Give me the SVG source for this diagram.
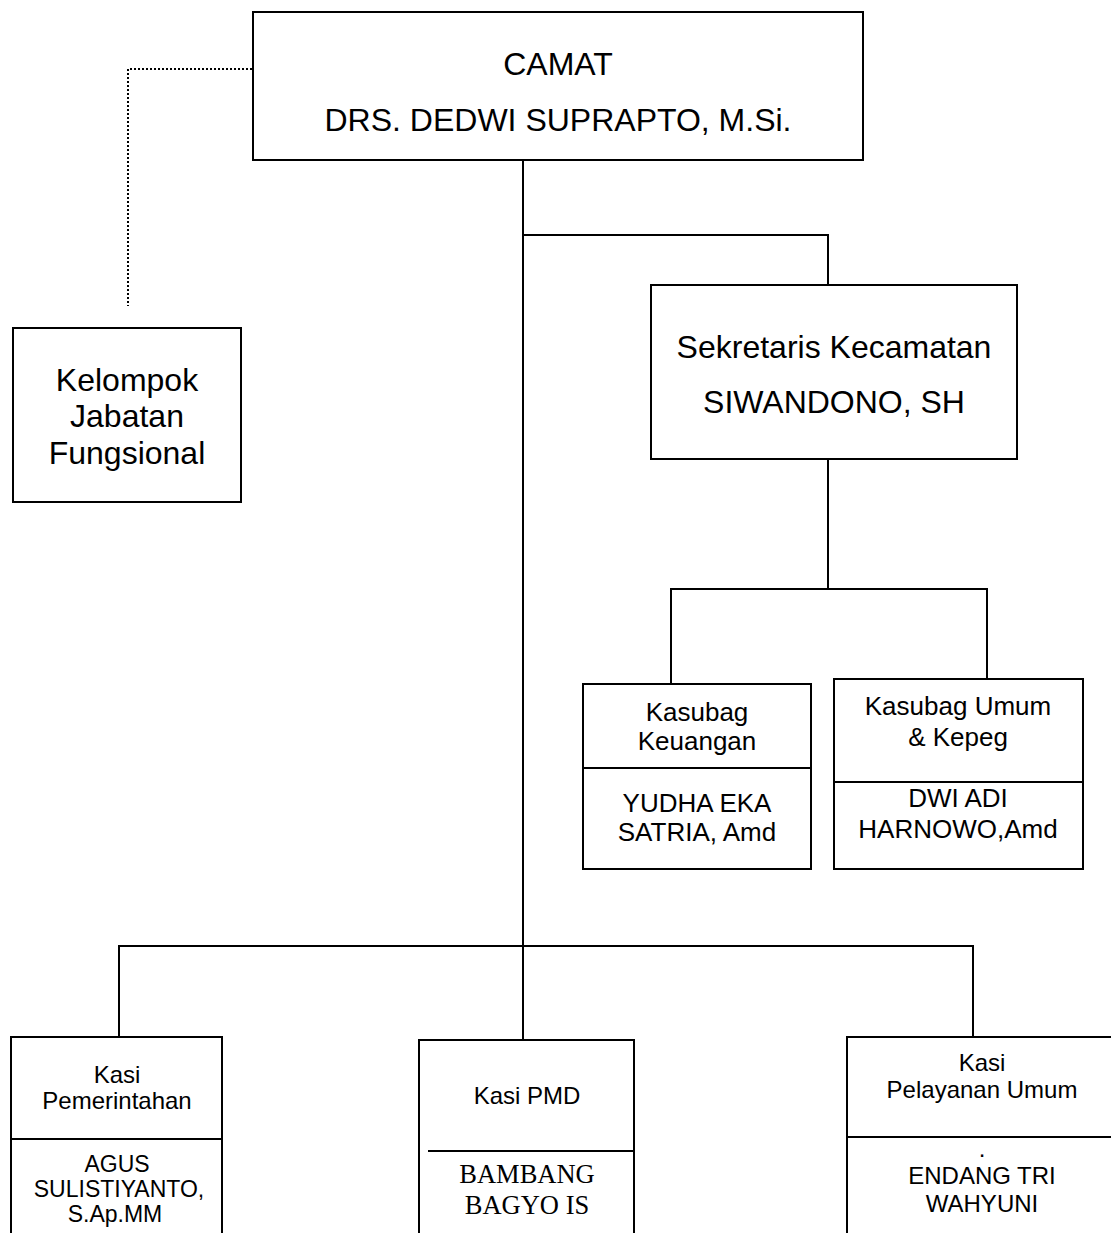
<svg xmlns="http://www.w3.org/2000/svg" width="1111" height="1233" viewBox="0 0 1111 1233">
<style>
.box{fill:#fff;stroke:#000;stroke-width:2}
.ln{fill:none;stroke:#000;stroke-width:2}
.dot{fill:none;stroke:#000;stroke-width:2;stroke-dasharray:2 2}
text{font-family:"Liberation Sans",Arial,sans-serif;fill:#000;text-anchor:middle}
.t32{font-size:32px}
.t26{font-size:26px}
.t22{font-size:24px}
.t23{font-size:23px}
.ser{font-family:"Liberation Serif","Times New Roman",serif;font-size:26.5px}
</style>
<rect width="1111" height="1233" fill="#fff"/>
<g id="connectors">
<polyline class="dot" points="252,69 128,69 128,306"/>
<line class="ln" x1="523" y1="160" x2="523" y2="1040"/>
<polyline class="ln" points="523,235 828,235 828,285"/>
<line class="ln" x1="828" y1="459" x2="828" y2="589"/>
<polyline class="ln" points="671,684 671,589 987,589 987,679"/>
<polyline class="ln" points="119,1037 119,946 973,946 973,1037"/>
</g>
<g id="camat">
<rect class="box" x="253" y="12" width="610" height="148"/>
<text class="t32" x="558" y="75">CAMAT</text>
<text class="t32" x="558" y="131">DRS. DEDWI SUPRAPTO, M.Si.</text>
</g>
<g id="kelompok">
<rect class="box" x="13" y="328" width="228" height="174"/>
<text class="t32" x="127" y="391">Kelompok</text>
<text class="t32" x="127" y="427">Jabatan</text>
<text class="t32" x="127" y="464">Fungsional</text>
</g>
<g id="sekretaris">
<rect class="box" x="651" y="285" width="366" height="174"/>
<text class="t32" x="834" y="358">Sekretaris Kecamatan</text>
<text class="t32" x="834" y="413">SIWANDONO, SH</text>
</g>
<g id="kasubag-keuangan">
<rect class="box" x="583" y="684" width="228" height="185"/>
<line class="ln" x1="583" y1="768" x2="811" y2="768"/>
<text class="t26" x="697" y="721">Kasubag</text>
<text class="t26" x="697" y="750">Keuangan</text>
<text class="t26" x="697" y="812">YUDHA EKA</text>
<text class="t26" x="697" y="841">SATRIA, Amd</text>
</g>
<g id="kasubag-umum">
<rect class="box" x="834" y="679" width="249" height="190"/>
<line class="ln" x1="834" y1="782" x2="1083" y2="782"/>
<text class="t26" x="958" y="715">Kasubag Umum</text>
<text class="t26" x="958" y="746">&amp; Kepeg</text>
<text class="t26" x="958" y="807">DWI ADI</text>
<text class="t26" x="958" y="838">HARNOWO,Amd</text>
</g>
<g id="kasi-pemerintahan">
<rect class="box" x="11" y="1037" width="211" height="210"/>
<line class="ln" x1="11" y1="1139" x2="222" y2="1139"/>
<text class="t22" x="117" y="1083">Kasi</text>
<text class="t22" x="117" y="1109">Pemerintahan</text>
<text class="t23" x="117" y="1172">AGUS</text>
<text class="t23" x="119" y="1197">SULISTIYANTO,</text>
<text class="t23" x="115" y="1222">S.Ap.MM</text>
</g>
<g id="kasi-pmd">
<rect class="box" x="419" y="1040" width="215" height="210"/>
<line class="ln" x1="428" y1="1151" x2="634" y2="1151"/>
<text class="t22" x="527" y="1104">Kasi PMD</text>
<text class="ser" x="527" y="1183">BAMBANG</text>
<text class="ser" x="527" y="1214">BAGYO IS</text>
</g>
<g id="kasi-pelayanan">
<rect class="box" x="847" y="1037" width="280" height="210"/>
<line class="ln" x1="847" y1="1137" x2="1111" y2="1137"/>
<text class="t22" x="982" y="1071">Kasi</text>
<text class="t22" x="982" y="1098">Pelayanan Umum</text>
<text class="t22" x="982" y="1157">.</text>
<text class="t22" x="982" y="1184">ENDANG TRI</text>
<text class="t22" x="982" y="1212">WAHYUNI</text>
</g>
</svg>
